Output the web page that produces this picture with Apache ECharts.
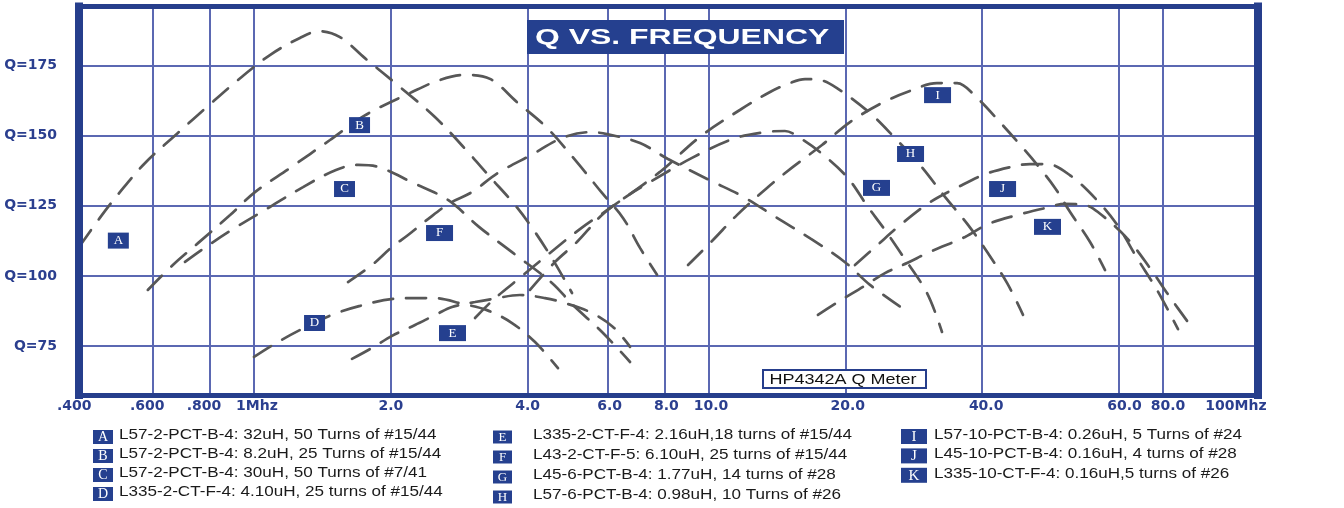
<!DOCTYPE html>
<html>
<head>
<meta charset="utf-8">
<script src="https://cdn.jsdelivr.net/npm/echarts@6/dist/echarts.min.js"></script>
<style>
html,body{margin:0;padding:0;background:#fff;}
#chart{width:1344px;height:508px;}
</style>
</head>
<body>
<div id="chart"></div>
<script>
// ---------------- DATA (frequency in MHz, Q) ----------------
const freqA = [0.413, 0.458, 0.507, 0.576, 0.680, 0.792, 0.922, 1.084, 1.262, 1.39, 1.546, 1.754, 2.095, 2.501, 2.957, 3.306, 3.752, 4.111, 4.549, 5.009];
const qA    = [110.5, 120.7, 129.9, 140.3, 151.0, 160.6, 169.9, 178.8, 184.9, 187.3, 185.2, 177.7, 167.4, 156.7, 144.2, 135.3, 125.3, 116.7, 105.7, 93.9];

const freqB = [0.584, 0.663, 0.753, 0.886, 1.005, 1.200, 1.470, 1.746, 2.227, 2.565, 2.912, 3.306, 3.790, 4.413, 5.135, 5.831, 6.484, 7.068, 7.704];
const qB    = [95.0, 103.9, 111.7, 121.7, 129.9, 138.5, 148.5, 157.1, 165.6, 169.9, 171.7, 170.3, 162.0, 152.8, 140.6, 129.6, 120.7, 110.0, 100.4];

const freqC = [0.705, 0.772, 0.899, 1.084, 1.282, 1.515, 1.694, 1.873, 2.238, 2.672, 3.126, 3.715, 4.525, 5.034, 5.831, 6.721];
const qC    = [105.0, 109.6, 116.7, 124.6, 131.7, 137.8, 139.6, 138.9, 133.2, 127.1, 117.5, 108.2, 97.5, 89.6, 80.0, 69.3];

const freqD = [1.0, 1.101, 1.262, 1.484, 1.711, 2.022, 2.284, 2.476, 2.883, 3.255, 3.696, 4.153, 4.665];
const qD    = [71.1, 75.4, 80.7, 86.1, 89.3, 91.8, 92.1, 92.1, 90.0, 87.8, 83.2, 76.4, 67.1];

const freqE = [1.643, 1.818, 2.012, 2.261, 2.527, 2.727, 3.064, 3.357, 3.847, 4.368, 4.834, 5.487, 6.165, 6.721];
const qE    = [70.4, 74.3, 78.6, 82.5, 86.4, 88.9, 90.7, 91.8, 93.2, 92.1, 90.3, 87.1, 81.8, 74.7];

const freqF = [1.610, 1.818, 2.012, 2.183, 2.402, 2.699, 3.017, 3.424, 4.089, 4.761, 5.487, 5.979, 7.068, 8.145, 10.13, 11.85, 14.15, 16.81, 19.97, 22.66, 27.48];
const qF    = [97.8, 103.9, 110.3, 114.6, 120.0, 126.0, 129.9, 136.5, 143.3, 149.2, 151.3, 150.6, 147.4, 141.7, 133.9, 128.5, 120.7, 113.2, 104.9, 96.8, 87.1];

const freqG = [4.048, 4.597, 5.135, 5.861, 6.721, 7.434, 9.199, 11.32, 13.31, 14.73, 15.90, 17.58, 20.17, 22.43, 24.45, 26.66, 30.25, 32.64];
const qG    = [95.0, 105.0, 112.1, 122.1, 129.2, 133.5, 142.1, 148.9, 151.3, 151.7, 149.2, 144.2, 135.3, 124.6, 116.4, 107.5, 93.9, 80.0];

const freqH = [3.064, 3.357, 3.790, 4.480, 5.213, 6.071, 7.816, 9.571, 11.72, 13.66, 15.11, 16.31, 17.58, 19.17, 22.66, 25.72, 29.19, 33.14, 37.24, 41.0, 45.37, 49.2];
const qH    = [85.0, 91.4, 98.5, 108.2, 116.7, 124.2, 137.1, 149.6, 159.2, 165.6, 168.8, 170.2, 169.9, 167.0, 158.1, 149.2, 139.6, 128.2, 118.2, 108.6, 97.5, 86.1];

const freqI = [9.015, 10.23, 11.55, 13.45, 15.34, 17.77, 20.48, 24.08, 27.76, 31.82, 35.22, 38.98, 43.74, 48.96, 53.57, 57.86, 62.45, 69.1, 74.55];
const qI    = [103.9, 112.8, 121.7, 131.4, 138.9, 146.7, 154.9, 161.7, 166.0, 168.8, 168.8, 163.5, 154.9, 146.0, 138.5, 131.4, 122.8, 112.1, 102.1];

const freqJ = [21.0, 23.49, 26.38, 30.72, 35.4, 40.6, 46.07, 50.97, 55.56, 62.45, 71.57, 79.6, 87.66, 97.0, 107.9];
const qJ    = [103.9, 110.9, 118.1, 126.3, 131.7, 136.3, 138.8, 139.9, 139.9, 135.9, 127.0, 117.8, 106.4, 95.0, 81.0];

const freqK = [17.41, 19.27, 21.87, 24.45, 27.34, 30.72, 36.68, 41.21, 47.74, 55.02, 60.87, 67.35, 71.9, 83.3, 93.6, 103.6, 114.7];
const qK    = [86.1, 90.7, 96.1, 101.0, 104.6, 108.6, 113.9, 118.5, 121.7, 124.2, 125.7, 125.3, 122.8, 113.5, 102.8, 92.4, 82.5];

// curve letters, in-chart tag positions (MHz, Q) and legend descriptions
const letters   = ['A','B','C','D','E','F','G','H','I','J','K'];
const labelFreq = [0.503, 1.707, 1.582, 1.359, 2.734, 2.560, 23.42, 27.83, 31.91, 44.36, 55.70];
const labelQ    = [112.6, 153.8, 131.0, 83.2, 79.6, 115.3, 131.4, 143.5, 164.5, 131.0, 117.5];
const legendTexts = [
  'L57-2-PCT-B-4: 32uH, 50 Turns of #15/44',
  'L57-2-PCT-B-4: 8.2uH, 25 Turns of #15/44',
  'L57-2-PCT-B-4: 30uH, 50 Turns of #7/41',
  'L335-2-CT-F-4: 4.10uH, 25 turns of #15/44',
  'L335-2-CT-F-4: 2.16uH,18 turns of #15/44',
  'L43-2-CT-F-5: 6.10uH, 25 turns of #15/44',
  'L45-6-PCT-B-4: 1.77uH, 14 turns of #28',
  'L57-6-PCT-B-4: 0.98uH, 10 Turns of #26',
  'L57-10-PCT-B-4: 0.26uH, 5 Turns of #24',
  'L45-10-PCT-B-4: 0.16uH, 4 turns of #28',
  'L335-10-CT-F-4: 0.16uH,5 turns of #26'
];

// axis ticks / labels
const xTickValues  = [0.6, 0.8, 1, 2, 4, 6, 8, 10, 20, 40, 80, 100];
const xLabelValues = [0.4125, 0.6, 0.8, 1, 2, 4, 6, 8, 10, 20, 40, 80, 100, 144.7];
const xLabelTexts  = ['.400', '.600', '.800', '1Mhz', '2.0', '4.0', '6.0', '8.0', '10.0', '20.0', '40.0', '60.0', '80.0', '100Mhz'];
const yTickValues  = [75, 100, 125, 150, 175];
const yLabelTexts  = ['Q=75', 'Q=100', 'Q=125', 'Q=150', 'Q=175'];

const titleText = 'Q VS. FREQUENCY';
const meterText = 'HP4342A Q Meter';

// ---------------- CHART ----------------
const X_MIN = 0.4121, X_MAX = 161.8, Y_MIN = 57.52, Y_MAX = 196.12;
const FRAME = '#263e8c';
const GRIDC = '#5b68b2';
const BOX = '#25408f';
const TXT = '#2b3f8f';
const CURVE = '#575757';
// horizontal nudges (px) of the x tick labels, as printed on the original sheet
const xLabelNudge = [-5, -6, -6, 3, 0, 0, 2, 2, 2.5, 2.5, 4, 5.5, 5, 0];

const curves = [
  [freqA, qA], [freqB, qB], [freqC, qC], [freqD, qD], [freqE, qE], [freqF, qF],
  [freqG, qG], [freqH, qH], [freqI, qI], [freqJ, qJ], [freqK, qK]
];

const series = curves.map(function (c, i) {
  return {
    type: 'line', name: letters[i],
    data: c[0].map(function (f, k) { return [f, c[1][k]]; }),
    xAxisIndex: 0, yAxisIndex: 0,
    smooth: 0.35, symbol: 'none', showSymbol: false, silent: true,
    lineStyle: { color: CURVE, width: 2.7, type: [20, 13], cap: 'round' },
    z: 2
  };
});
series.push({
  type: 'scatter', name: 'tags', xAxisIndex: 0, yAxisIndex: 0,
  data: letters.map(function (l, i) { return { name: l, value: [labelFreq[i], labelQ[i]] }; }),
  symbol: 'rect',
  symbolSize: function (v, p) { return p.dataIndex < 4 ? [21, 16] : [27, 16]; },
  itemStyle: { color: BOX, opacity: 1 },
  label: { show: true, position: 'inside', formatter: function (p) { return p.name; },
           color: '#fff', fontFamily: '"Liberation Serif", "DejaVu Serif", serif', fontSize: 13 },
  silent: true, z: 4
});

function nearestIdx(arr, v) {
  let best = 0, bd = Infinity;
  for (let i = 0; i < arr.length; i++) {
    const d = Math.abs(Math.log(v / arr[i]));
    if (d < bd) { bd = d; best = i; }
  }
  return best;
}

const xRich = {};
xLabelNudge.forEach(function (n, i) {
  xRich['n' + i] = {
    color: TXT, fontFamily: '"DejaVu Sans", sans-serif', fontWeight: 'bold', fontSize: 14,
    padding: n >= 0 ? [0, 0, 0, 2 * n] : [0, -2 * n, 0, 0]
  };
});

// graphic: title, meter box, legend
const graphics = [];
graphics.push({ type: 'rect', shape: { x: 527, y: 20, width: 317, height: 34 }, style: { fill: BOX }, z: 10 });
graphics.push({ type: 'text', x: 535, y: 37.5, scaleX: 1.45, z: 11,
  style: { text: titleText, font: 'bold 22px "Liberation Sans", Arial, sans-serif', fill: '#fff',
           align: 'left', verticalAlign: 'middle', textAlign: 'left', textVerticalAlign: 'middle' } });
graphics.push({ type: 'rect', shape: { x: 763, y: 370, width: 163, height: 18 }, style: { fill: '#fff', stroke: FRAME, lineWidth: 2 }, z: 10 });
graphics.push({ type: 'text', x: 769.5, y: 379.5, scaleX: 1.2, z: 11,
  style: { text: meterText, font: '15px "Liberation Sans", Arial, sans-serif', fill: '#111',
           align: 'left', verticalAlign: 'middle', textAlign: 'left', textVerticalAlign: 'middle' } });

const legendCols = [
  { from: 0, to: 4,  boxX: 93,  boxW: 20, boxH: 14, letterSize: 14, textX: 119, y0: 435.5, step: 19 },
  { from: 4, to: 8,  boxX: 493, boxW: 19, boxH: 13, letterSize: 13, textX: 533, y0: 435.5, step: 20 },
  { from: 8, to: 11, boxX: 901, boxW: 26, boxH: 15, letterSize: 15, textX: 934, y0: 435,   step: 19.4 }
];
legendCols.forEach(function (col) {
  for (let i = col.from; i < col.to; i++) {
    const r = i - col.from;
    const cy = col.y0 + r * col.step;
    graphics.push({ type: 'rect', shape: { x: col.boxX, y: cy + 1.5 - col.boxH / 2, width: col.boxW, height: col.boxH }, style: { fill: BOX }, z: 10 });
    graphics.push({ type: 'text', x: col.boxX + col.boxW / 2, y: cy + 2, z: 11,
      style: { text: letters[i], font: col.letterSize + 'px "Liberation Serif", "DejaVu Serif", serif', fill: '#fff',
               align: 'center', verticalAlign: 'middle', textAlign: 'center', textVerticalAlign: 'middle' } });
    graphics.push({ type: 'text', x: col.textX, y: cy, scaleX: 1.22, z: 11,
      style: { text: legendTexts[i], font: '14px "Liberation Sans", Arial, sans-serif', fill: '#1a1a1a',
               align: 'left', verticalAlign: 'middle', textAlign: 'left', textVerticalAlign: 'middle' } });
  }
});

const frameAxis = function (pos, w) {
  return {
    type: 'value', position: pos, z: 6, min: 0, max: 1,
    axisLine: { show: true, onZero: false, lineStyle: { color: FRAME, width: w, cap: 'square' } },
    axisTick: { show: false }, axisLabel: { show: false }, splitLine: { show: false }
  };
};

const option = {
  animation: false,
  backgroundColor: '#ffffff',
  grid: { left: 79, right: 86, top: 6.5, bottom: 113, containLabel: false, outerBoundsMode: 'none' },
  xAxis: [
    {
      type: 'log', logBase: 10, min: X_MIN, max: X_MAX, position: 'bottom', z: 1,
      axisLine: { show: false },
      axisTick: { show: false, customValues: xTickValues },
      splitLine: { show: true, lineStyle: { color: GRIDC, width: 2 } },
      axisLabel: {
        customValues: xLabelValues, margin: 4,
        color: TXT, fontFamily: '"DejaVu Sans", sans-serif', fontWeight: 'bold', fontSize: 14,
        rich: xRich,
        formatter: function (v) { const i = nearestIdx(xLabelValues, v); return '{n' + i + '|' + xLabelTexts[i] + '}'; }
      }
    },
    frameAxis('bottom', 5),
    frameAxis('top', 5)
  ],
  yAxis: [
    {
      type: 'value', min: Y_MIN, max: Y_MAX, position: 'left', z: 1,
      axisLine: { show: false },
      axisTick: { show: false, customValues: yTickValues },
      splitLine: { show: true, lineStyle: { color: GRIDC, width: 2 } },
      axisLabel: {
        customValues: yTickValues, margin: 22,
        color: TXT, fontFamily: '"DejaVu Sans", sans-serif', fontWeight: 'bold', fontSize: 14,
        formatter: function (v) { return yLabelTexts[yTickValues.indexOf(Math.round(v))]; }
      }
    },
    frameAxis('left', 8),
    frameAxis('right', 8)
  ],
  series: series,
  graphic: { elements: graphics }
};

const chart = echarts.init(document.getElementById('chart'), null, { renderer: 'canvas' });
chart.setOption(option);
</script>
</body>
</html>
